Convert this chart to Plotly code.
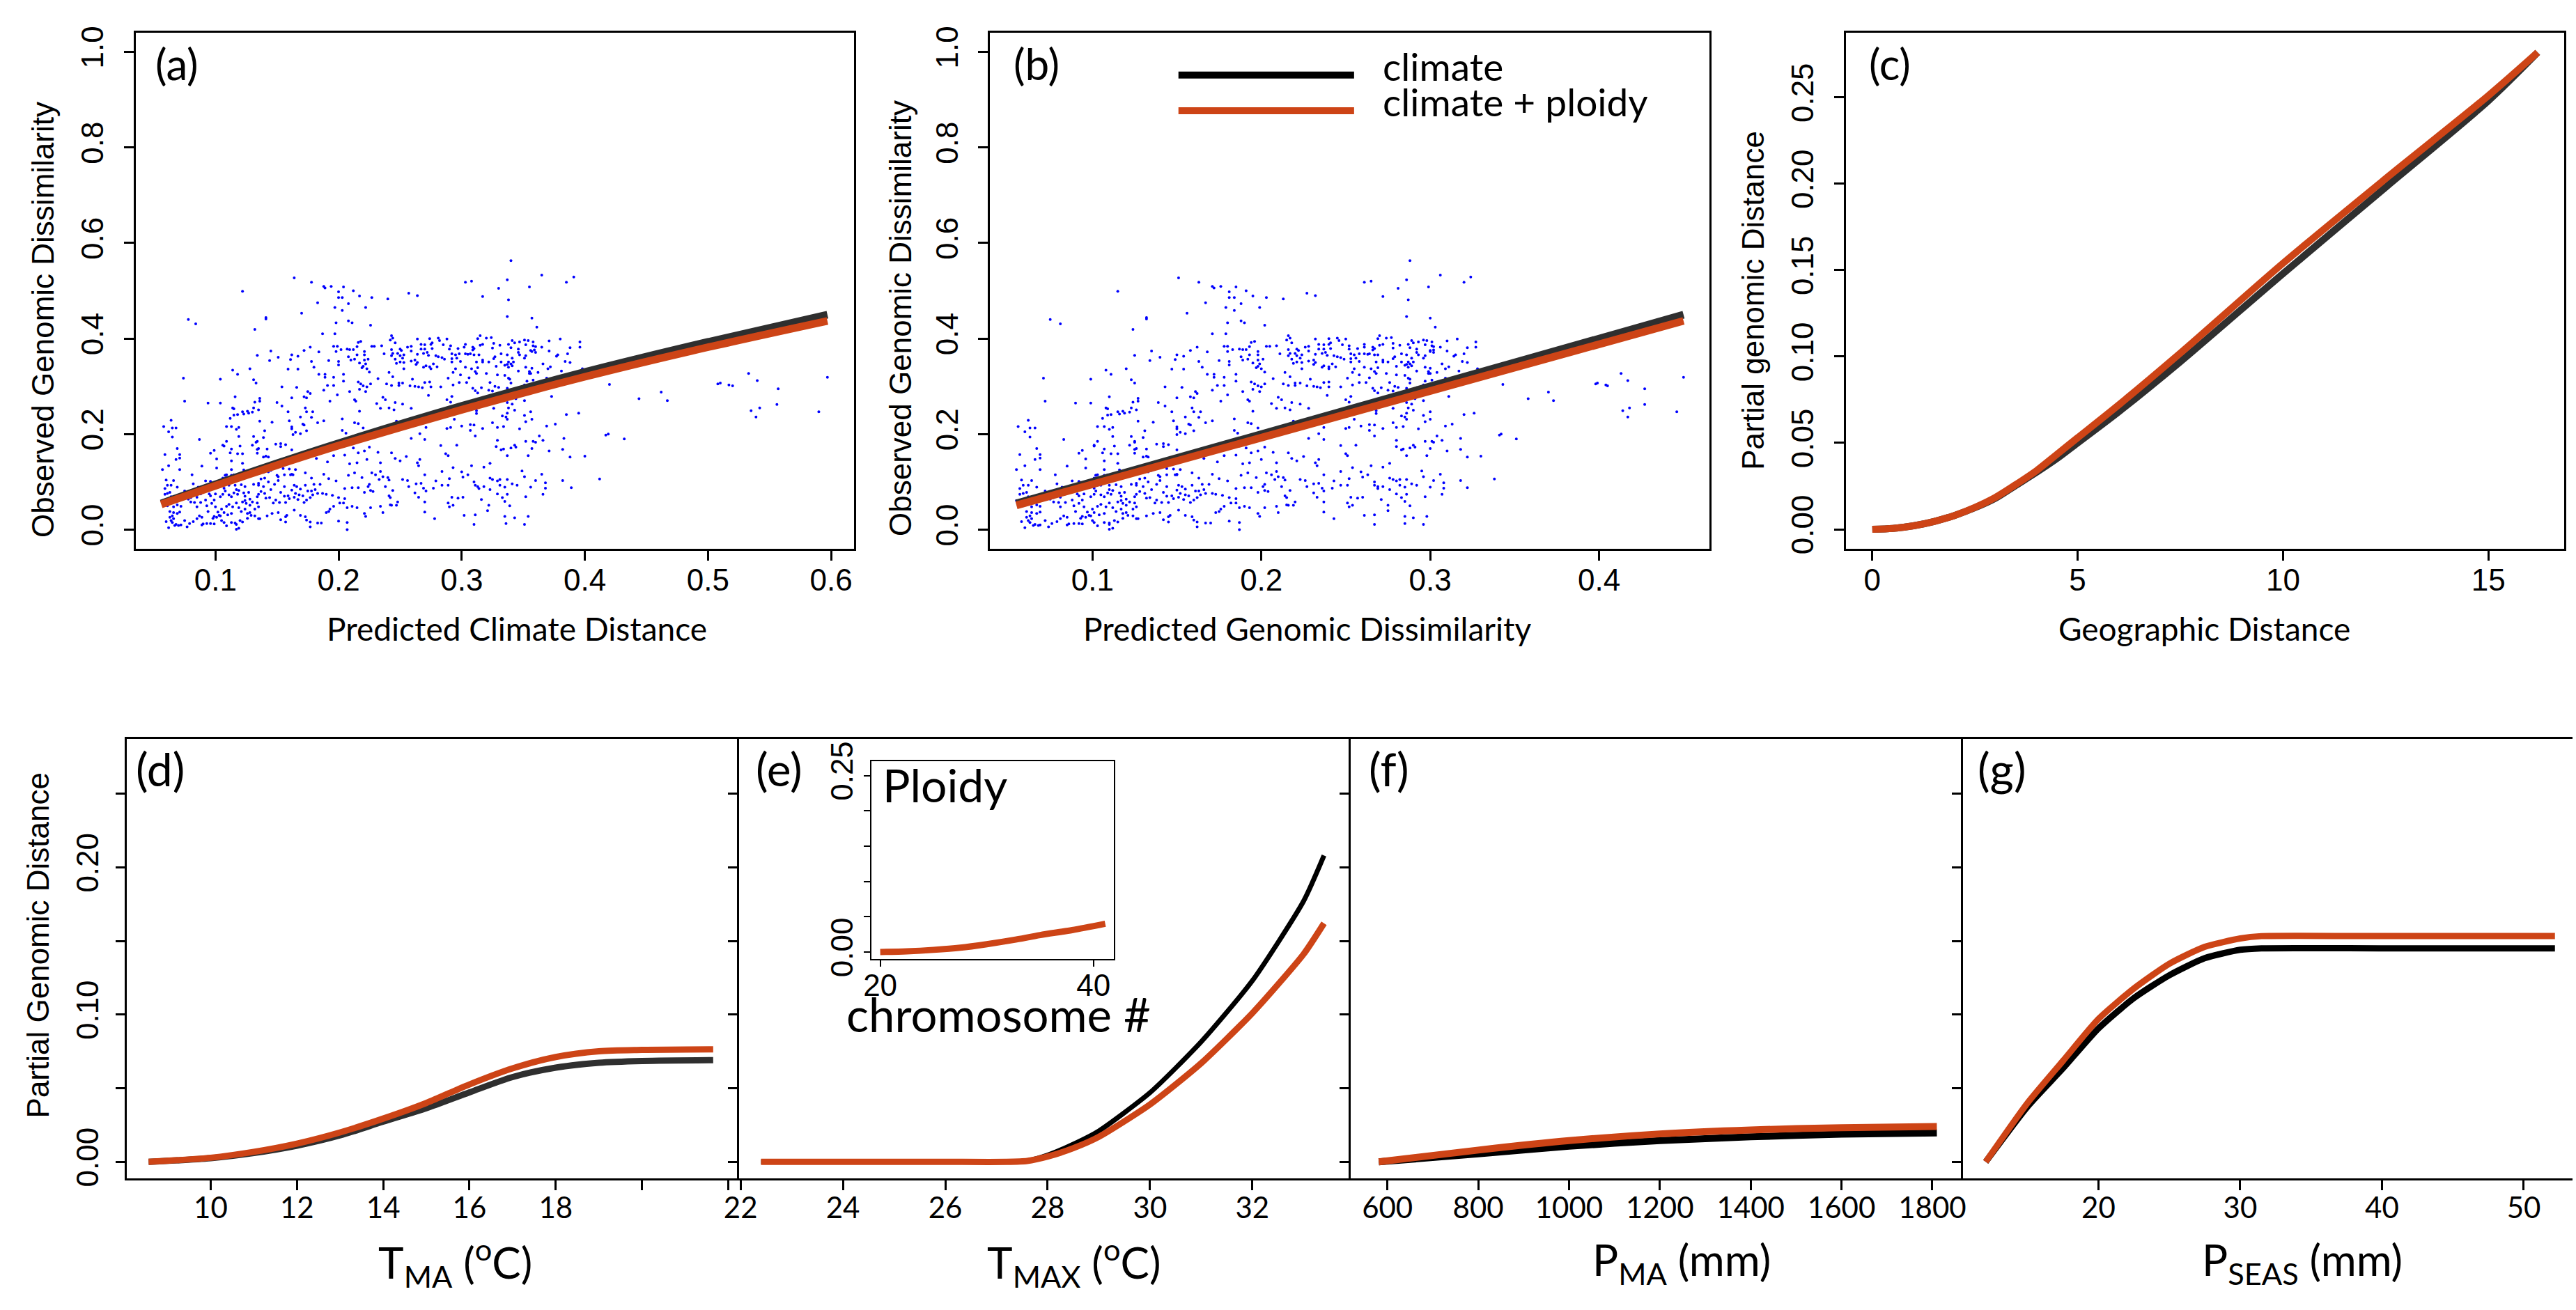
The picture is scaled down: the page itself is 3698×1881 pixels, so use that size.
import plotly.graph_objects as go

W, H = 3698, 1881

pred_climate_distance = [
    0.420, 0.444, 0.462, 0.467, 0.508, 0.510, 0.517, 0.520, 0.533, 0.540,
    0.557, 0.535, 0.542, 0.539, 0.556, 0.590, 0.597, 0.417, 0.419, 0.432,
    0.412, 0.340, 0.365, 0.337, 0.385, 0.391, 0.303, 0.308, 0.330, 0.355,
    0.257, 0.264, 0.240, 0.317, 0.338, 0.337, 0.357, 0.361, 0.243, 0.244,
    0.242, 0.264, 0.274, 0.281, 0.282, 0.276, 0.288, 0.313, 0.315, 0.320,
    0.324, 0.380, 0.351, 0.354, 0.358, 0.341, 0.347, 0.371, 0.396, 0.396,
    0.235, 0.246, 0.256, 0.259, 0.267, 0.270, 0.275, 0.285, 0.291, 0.297,
    0.303, 0.302, 0.309, 0.309, 0.317, 0.315, 0.326, 0.325, 0.331, 0.338,
    0.340, 0.343, 0.346, 0.352, 0.356, 0.358, 0.360, 0.365, 0.371, 0.388,
    0.386, 0.378, 0.377, 0.384, 0.388, 0.381, 0.398, 0.372, 0.370, 0.366,
    0.243, 0.244, 0.243, 0.250, 0.248, 0.251, 0.253, 0.250, 0.259, 0.264,
    0.267, 0.270, 0.272, 0.269, 0.273, 0.276, 0.279, 0.281, 0.284, 0.290,
    0.292, 0.295, 0.298, 0.303, 0.305, 0.307, 0.310, 0.310, 0.314, 0.317,
    0.317, 0.322, 0.326, 0.327, 0.332, 0.332, 0.337, 0.338, 0.341, 0.342,
    0.340, 0.337, 0.335, 0.346, 0.347, 0.352, 0.351, 0.359, 0.360, 0.357,
    0.237, 0.246, 0.247, 0.250, 0.253, 0.252, 0.253, 0.259, 0.262, 0.264,
    0.263, 0.269, 0.271, 0.274, 0.277, 0.280, 0.275, 0.286, 0.292, 0.296,
    0.292, 0.295, 0.299, 0.303, 0.308, 0.312, 0.311, 0.312, 0.313, 0.320,
    0.328, 0.329, 0.335, 0.338, 0.341, 0.346, 0.352, 0.355, 0.357, 0.356,
    0.362, 0.232, 0.241, 0.244, 0.239, 0.243, 0.249, 0.249, 0.252, 0.260,
    0.258, 0.262, 0.265, 0.268, 0.270, 0.274, 0.275, 0.283, 0.289, 0.293,
    0.293, 0.298, 0.299, 0.304, 0.306, 0.309, 0.311, 0.313, 0.316, 0.323,
    0.322, 0.325, 0.327, 0.330, 0.338, 0.339, 0.340, 0.337, 0.339, 0.343,
    0.344, 0.346, 0.351, 0.353, 0.358, 0.369, 0.373, 0.355, 0.231, 0.236,
    0.238, 0.234, 0.241, 0.245, 0.246, 0.252, 0.259, 0.247, 0.273, 0.288,
    0.292, 0.291, 0.294, 0.291, 0.288, 0.271, 0.266, 0.259, 0.270, 0.283,
    0.296, 0.287, 0.289, 0.300, 0.307, 0.307, 0.310, 0.311, 0.317, 0.312,
    0.312, 0.326, 0.325, 0.329, 0.334, 0.333, 0.336, 0.337, 0.337, 0.337,
    0.338, 0.341, 0.343, 0.347, 0.351, 0.351, 0.352, 0.356, 0.357, 0.363,
    0.366, 0.369, 0.376, 0.385, 0.395, 0.400, 0.383, 0.382, 0.388, 0.371,
    0.354, 0.357, 0.358, 0.360, 0.352, 0.343, 0.344, 0.340, 0.337, 0.334,
    0.332, 0.328, 0.329, 0.323, 0.318, 0.308, 0.293, 0.284, 0.264, 0.266,
    0.265, 0.255, 0.250, 0.246, 0.243, 0.232, 0.234, 0.234, 0.230, 0.233,
    0.236, 0.240, 0.241, 0.238, 0.241, 0.242, 0.242, 0.243, 0.247, 0.248,
    0.234, 0.236, 0.244, 0.252, 0.256, 0.257, 0.262, 0.265, 0.263, 0.267,
    0.269, 0.271, 0.270, 0.270, 0.270, 0.278, 0.279, 0.277, 0.284, 0.289,
    0.290, 0.292, 0.289, 0.290, 0.293, 0.297, 0.301, 0.300, 0.301, 0.305,
    0.310, 0.311, 0.313, 0.314, 0.318, 0.316, 0.322, 0.321, 0.323, 0.325,
    0.323, 0.329, 0.331, 0.331, 0.329, 0.335, 0.337, 0.333, 0.335, 0.337,
    0.339, 0.341, 0.345, 0.349, 0.351, 0.352, 0.356, 0.360, 0.365, 0.368,
    0.368, 0.366, 0.382, 0.389, 0.302, 0.311, 0.310, 0.335, 0.336, 0.343,
    0.351, 0.354, 0.164, 0.178, 0.188, 0.189, 0.194, 0.204, 0.200, 0.212,
    0.122, 0.200, 0.203, 0.217, 0.227, 0.183, 0.208, 0.197, 0.203, 0.222,
    0.170, 0.141, 0.141, 0.078, 0.084, 0.198, 0.208, 0.211, 0.226, 0.132,
    0.187, 0.197, 0.216, 0.218, 0.215, 0.227, 0.229, 0.196, 0.199, 0.202,
    0.207, 0.209, 0.212, 0.198, 0.215, 0.221, 0.221, 0.208, 0.177, 0.172,
    0.184, 0.162, 0.167, 0.145, 0.134, 0.144, 0.151, 0.161, 0.178, 0.192,
    0.200, 0.200, 0.210, 0.213, 0.217, 0.221, 0.224, 0.220, 0.222, 0.225,
    0.219, 0.223, 0.180, 0.159, 0.167, 0.128, 0.114, 0.118, 0.104, 0.074,
    0.131, 0.133, 0.154, 0.166, 0.184, 0.189, 0.189, 0.196, 0.196, 0.191,
    0.204, 0.204, 0.199, 0.209, 0.216, 0.218, 0.220, 0.223, 0.226, 0.217,
    0.222, 0.213, 0.214, 0.217, 0.216, 0.220, 0.213, 0.203, 0.203, 0.206,
    0.193, 0.188, 0.175, 0.177, 0.172, 0.174, 0.162, 0.169, 0.171, 0.172,
    0.174, 0.178, 0.179, 0.183, 0.188, 0.173, 0.174, 0.159, 0.160, 0.162,
    0.162, 0.163, 0.165, 0.169, 0.154, 0.150, 0.146, 0.136, 0.136, 0.132,
    0.135, 0.131, 0.126, 0.127, 0.130, 0.122, 0.123, 0.118, 0.115, 0.114,
    0.115, 0.116, 0.112, 0.117, 0.119, 0.109, 0.113, 0.104, 0.094, 0.075,
    0.064, 0.062, 0.065, 0.068, 0.065, 0.058, 0.087, 0.140, 0.136, 0.139,
    0.131, 0.133, 0.134, 0.130, 0.134, 0.135, 0.134, 0.142, 0.143, 0.139,
    0.141, 0.149, 0.153, 0.153, 0.157, 0.162, 0.165, 0.155, 0.119, 0.120,
    0.113, 0.112, 0.107, 0.106, 0.109, 0.118, 0.122, 0.122, 0.101, 0.096,
    0.099, 0.113, 0.101, 0.089, 0.068, 0.071, 0.069, 0.071, 0.059, 0.062,
    0.057, 0.071, 0.081, 0.113, 0.115, 0.109, 0.108, 0.106, 0.110, 0.123,
    0.126, 0.128, 0.139, 0.143, 0.145, 0.150, 0.151, 0.156, 0.160, 0.162,
    0.163, 0.060, 0.066, 0.061, 0.064, 0.069, 0.059, 0.075, 0.059, 0.061,
    0.063, 0.064, 0.066, 0.059, 0.057, 0.069, 0.066, 0.072, 0.061, 0.063,
    0.066, 0.069, 0.071, 0.063, 0.065, 0.066, 0.064, 0.065, 0.068, 0.070,
    0.067, 0.060, 0.062, 0.072, 0.075, 0.077, 0.079, 0.082, 0.085, 0.087,
    0.089, 0.089, 0.090, 0.096, 0.093, 0.098, 0.099, 0.101, 0.103, 0.099,
    0.105, 0.107, 0.109, 0.113, 0.116, 0.117, 0.120, 0.122, 0.117, 0.119,
    0.126, 0.129, 0.132, 0.135, 0.136, 0.142, 0.146, 0.151, 0.153, 0.157,
    0.157, 0.158, 0.164, 0.169, 0.173, 0.174, 0.177, 0.177, 0.183, 0.186,
    0.200, 0.207, 0.207, 0.190, 0.192, 0.193, 0.196, 0.201, 0.204, 0.205,
    0.207, 0.211, 0.215, 0.221, 0.222, 0.226, 0.221, 0.226, 0.228, 0.224,
    0.216, 0.211, 0.205, 0.200, 0.195, 0.190, 0.187, 0.183, 0.181, 0.185,
    0.180, 0.178, 0.173, 0.169, 0.166, 0.164, 0.162, 0.165, 0.168, 0.171,
    0.175, 0.178, 0.179, 0.177, 0.174, 0.172, 0.167, 0.164, 0.160, 0.159,
    0.156, 0.157, 0.152, 0.149, 0.147, 0.144, 0.141, 0.140, 0.137, 0.135,
    0.134, 0.128, 0.130, 0.134, 0.135, 0.132, 0.128, 0.128, 0.125, 0.124,
    0.122, 0.124, 0.123, 0.119, 0.117, 0.115, 0.118, 0.113, 0.111, 0.108,
    0.106, 0.104, 0.100, 0.099, 0.096, 0.095, 0.092, 0.093, 0.094, 0.097,
    0.100, 0.102, 0.105, 0.109, 0.111, 0.114, 0.117, 0.119, 0.121, 0.124,
    0.126, 0.113, 0.110, 0.107, 0.104, 0.085, 0.088, 0.083, 0.080, 0.078,
    0.080, 0.085, 0.088, 0.090, 0.086, 0.082, 0.092, 0.096, 0.104, 0.107,
    0.111, 0.116, 0.121, 0.124, 0.127, 0.131, 0.135, 0.139, 0.145, 0.148,
    0.151, 0.153, 0.156, 0.161, 0.143, 0.140, 0.137, 0.135, 0.123, 0.113,
    0.108, 0.188, 0.192, 0.198, 0.208, 0.213, 0.219, 0.225, 0.227, 0.173,
    0.212, 0.216, 0.221, 0.225, 0.223, 0.215, 0.205, 0.209, 0.196, 0.191,
    0.182, 0.188, 0.179,
]

observed_dissimilarity = [
    0.304, 0.274, 0.288, 0.270, 0.305, 0.307, 0.303, 0.301, 0.327, 0.312,
    0.295, 0.249, 0.255, 0.236, 0.262, 0.247, 0.319, 0.198, 0.200, 0.190,
    0.106, 0.563, 0.533, 0.523, 0.518, 0.529, 0.518, 0.520, 0.505, 0.508,
    0.495, 0.490, 0.483, 0.488, 0.481, 0.446, 0.443, 0.424, 0.406, 0.401,
    0.397, 0.399, 0.400, 0.401, 0.396, 0.391, 0.399, 0.400, 0.406, 0.401,
    0.402, 0.399, 0.397, 0.396, 0.393, 0.396, 0.393, 0.395, 0.393, 0.382,
    0.385, 0.391, 0.382, 0.384, 0.388, 0.387, 0.388, 0.387, 0.385, 0.379,
    0.388, 0.382, 0.382, 0.376, 0.388, 0.386, 0.390, 0.380, 0.386, 0.388,
    0.381, 0.391, 0.378, 0.387, 0.375, 0.385, 0.383, 0.382, 0.374, 0.381,
    0.368, 0.366, 0.363, 0.352, 0.350, 0.332, 0.337, 0.341, 0.337, 0.347,
    0.377, 0.369, 0.364, 0.378, 0.369, 0.375, 0.366, 0.364, 0.374, 0.367,
    0.378, 0.378, 0.371, 0.369, 0.365, 0.379, 0.364, 0.362, 0.360, 0.378,
    0.368, 0.366, 0.368, 0.368, 0.367, 0.368, 0.379, 0.366, 0.366, 0.355,
    0.351, 0.351, 0.358, 0.362, 0.368, 0.351, 0.366, 0.351, 0.359, 0.351,
    0.347, 0.346, 0.344, 0.371, 0.366, 0.364, 0.359, 0.376, 0.371, 0.373,
    0.368, 0.357, 0.348, 0.351, 0.350, 0.359, 0.337, 0.353, 0.355, 0.350,
    0.346, 0.340, 0.343, 0.341, 0.347, 0.341, 0.337, 0.357, 0.358, 0.359,
    0.351, 0.337, 0.352, 0.340, 0.337, 0.351, 0.331, 0.327, 0.339, 0.327,
    0.342, 0.324, 0.323, 0.340, 0.343, 0.332, 0.340, 0.331, 0.338, 0.327,
    0.329, 0.316, 0.329, 0.320, 0.305, 0.302, 0.307, 0.302, 0.307, 0.315,
    0.301, 0.300, 0.299, 0.297, 0.308, 0.309, 0.299, 0.299, 0.317, 0.329,
    0.303, 0.308, 0.324, 0.308, 0.318, 0.296, 0.291, 0.286, 0.297, 0.308,
    0.292, 0.290, 0.300, 0.298, 0.317, 0.315, 0.307, 0.296, 0.291, 0.281,
    0.274, 0.297, 0.303, 0.311, 0.313, 0.317, 0.279, 0.327, 0.264, 0.277,
    0.272, 0.254, 0.255, 0.251, 0.266, 0.263, 0.254, 0.227, 0.281, 0.272,
    0.279, 0.267, 0.231, 0.214, 0.212, 0.214, 0.201, 0.191, 0.189, 0.176,
    0.177, 0.159, 0.155, 0.217, 0.220, 0.208, 0.219, 0.196, 0.212, 0.249,
    0.243, 0.254, 0.224, 0.214, 0.216, 0.238, 0.236, 0.231, 0.244, 0.266,
    0.255, 0.263, 0.250, 0.211, 0.270, 0.239, 0.226, 0.247, 0.231, 0.196,
    0.187, 0.217, 0.221, 0.241, 0.244, 0.154, 0.191, 0.168, 0.152, 0.165,
    0.155, 0.170, 0.185, 0.183, 0.185, 0.177, 0.173, 0.171, 0.155, 0.169,
    0.167, 0.174, 0.187, 0.139, 0.131, 0.134, 0.130, 0.122, 0.140, 0.147,
    0.134, 0.153, 0.144, 0.149, 0.161, 0.162, 0.140, 0.122, 0.115, 0.105,
    0.111, 0.109, 0.104, 0.090, 0.071, 0.067, 0.052, 0.051, 0.051, 0.058,
    0.049, 0.036, 0.082, 0.105, 0.103, 0.090, 0.077, 0.068, 0.096, 0.097,
    0.087, 0.081, 0.115, 0.058, 0.037, 0.023, 0.102, 0.087, 0.093, 0.093,
    0.107, 0.068, 0.056, 0.048, 0.051, 0.066, 0.068, 0.121, 0.110, 0.115,
    0.100, 0.093, 0.090, 0.086, 0.090, 0.063, 0.051, 0.040, 0.108, 0.105,
    0.084, 0.102, 0.093, 0.105, 0.075, 0.089, 0.105, 0.067, 0.059, 0.074,
    0.050, 0.096, 0.093, 0.123, 0.111, 0.069, 0.089, 0.103, 0.116, 0.098,
    0.087, 0.074, 0.103, 0.088, 0.030, 0.031, 0.011, 0.028, 0.013, 0.025,
    0.011, 0.028, 0.527, 0.518, 0.509, 0.506, 0.509, 0.508, 0.498, 0.500,
    0.499, 0.486, 0.486, 0.489, 0.486, 0.475, 0.473, 0.465, 0.459, 0.465,
    0.453, 0.444, 0.441, 0.440, 0.431, 0.433, 0.437, 0.433, 0.428, 0.419,
    0.410, 0.410, 0.392, 0.394, 0.383, 0.384, 0.384, 0.384, 0.384, 0.377,
    0.378, 0.377, 0.377, 0.373, 0.366, 0.366, 0.373, 0.362, 0.382, 0.375,
    0.372, 0.366, 0.363, 0.374, 0.365, 0.354, 0.361, 0.356, 0.352, 0.354,
    0.352, 0.345, 0.355, 0.357, 0.349, 0.355, 0.357, 0.342, 0.347, 0.330,
    0.339, 0.337, 0.340, 0.336, 0.336, 0.337, 0.334, 0.325, 0.315, 0.317,
    0.314, 0.307, 0.299, 0.298, 0.325, 0.325, 0.319, 0.319, 0.302, 0.302,
    0.325, 0.311, 0.282, 0.289, 0.309, 0.305, 0.301, 0.299, 0.305, 0.294,
    0.289, 0.272, 0.269, 0.248, 0.222, 0.213, 0.224, 0.232, 0.208, 0.202,
    0.269, 0.292, 0.289, 0.285, 0.278, 0.276, 0.276, 0.236, 0.221, 0.219,
    0.207, 0.235, 0.247, 0.224, 0.228, 0.255, 0.247, 0.247, 0.228, 0.215,
    0.211, 0.199, 0.204, 0.201, 0.259, 0.266, 0.225, 0.275, 0.269, 0.267,
    0.251, 0.255, 0.248, 0.244, 0.246, 0.247, 0.242, 0.241, 0.240, 0.255,
    0.253, 0.278, 0.233, 0.210, 0.214, 0.216, 0.216, 0.265, 0.265, 0.269,
    0.229, 0.205, 0.213, 0.213, 0.194, 0.216, 0.189, 0.207, 0.227, 0.193,
    0.195, 0.183, 0.185, 0.177, 0.168, 0.170, 0.160, 0.169, 0.152, 0.152,
    0.154, 0.179, 0.180, 0.174, 0.178, 0.167, 0.126, 0.128, 0.195, 0.175,
    0.169, 0.161, 0.175, 0.177, 0.185, 0.159, 0.159, 0.139, 0.148, 0.160,
    0.166, 0.144, 0.129, 0.133, 0.147, 0.150, 0.170, 0.157, 0.157, 0.134,
    0.126, 0.126, 0.115, 0.126, 0.115, 0.115, 0.114, 0.108, 0.109, 0.125,
    0.122, 0.119, 0.120, 0.121, 0.124, 0.114, 0.111, 0.115, 0.127, 0.116,
    0.115, 0.104, 0.103, 0.093, 0.093, 0.089, 0.086, 0.081, 0.074, 0.076,
    0.078, 0.069, 0.065, 0.062, 0.061, 0.052, 0.048, 0.049, 0.050, 0.038,
    0.036, 0.034, 0.037, 0.026, 0.029, 0.023, 0.019, 0.015, 0.011, 0.009,
    0.009, 0.017, 0.004, 0.010, 0.019, 0.006, 0.013, 0.017, 0.023, 0.029,
    0.026, 0.010, 0.012, 0.013, 0.013, 0.024, 0.028, 0.026, 0.030, 0.012,
    0.019, 0.015, 0.008, 0.015, 0.014, 0.011, 0.019, 0.016, 0.001, 0.003,
    0.024, 0.030, 0.029, 0.023, 0.023, 0.029, 0.034, 0.036, 0.021, 0.016,
    0.027, 0.030, 0.041, 0.030, 0.027, 0.020, 0.016, 0.006, 0.014, 0.014,
    0.018, 0.015, 0.000, 0.036, 0.038, 0.043, 0.049, 0.056, 0.056, 0.065,
    0.046, 0.049, 0.046, 0.034, 0.028, 0.046, 0.078, 0.082, 0.080, 0.090,
    0.088, 0.088, 0.086, 0.067, 0.072, 0.074, 0.076, 0.076, 0.084, 0.095,
    0.095, 0.108, 0.093, 0.085, 0.090, 0.093, 0.083, 0.076, 0.073, 0.071,
    0.081, 0.081, 0.073, 0.067, 0.062, 0.057, 0.063, 0.068, 0.065, 0.071,
    0.070, 0.057, 0.057, 0.062, 0.056, 0.067, 0.066, 0.076, 0.080, 0.074,
    0.069, 0.064, 0.058, 0.056, 0.048, 0.043, 0.036, 0.051, 0.055, 0.061,
    0.058, 0.070, 0.077, 0.082, 0.084, 0.077, 0.074, 0.069, 0.073, 0.081,
    0.074, 0.069, 0.075, 0.062, 0.071, 0.075, 0.062, 0.050, 0.038, 0.055,
    0.048, 0.037, 0.043, 0.049, 0.053, 0.048, 0.056, 0.046, 0.038, 0.043,
    0.034, 0.034, 0.031, 0.036, 0.029, 0.048, 0.057, 0.057, 0.058, 0.064,
    0.067, 0.068, 0.075, 0.083, 0.089, 0.096, 0.102, 0.101, 0.095, 0.087,
    0.093, 0.093, 0.094, 0.090, 0.078, 0.095, 0.093, 0.090, 0.084, 0.095,
    0.103, 0.078, 0.090, 0.115, 0.100, 0.108, 0.106, 0.097, 0.109, 0.114,
    0.114, 0.116, 0.107, 0.102, 0.114, 0.119, 0.109, 0.095, 0.119, 0.119,
    0.171, 0.161, 0.165, 0.173, 0.147, 0.140, 0.156, 0.138, 0.155, 0.142,
    0.149, 0.170, 0.166,
]

pred_genomic_dissimilarity = [
    0.343, 0.358, 0.370, 0.373, 0.398, 0.399, 0.404, 0.405, 0.413, 0.417,
    0.427, 0.414, 0.418, 0.417, 0.427, 0.446, 0.450, 0.341, 0.342, 0.351,
    0.338, 0.288, 0.306, 0.286, 0.320, 0.324, 0.261, 0.265, 0.281, 0.299,
    0.227, 0.232, 0.213, 0.272, 0.287, 0.286, 0.300, 0.303, 0.216, 0.217,
    0.215, 0.232, 0.240, 0.245, 0.246, 0.241, 0.250, 0.269, 0.270, 0.274,
    0.277, 0.316, 0.296, 0.298, 0.301, 0.289, 0.293, 0.310, 0.327, 0.327,
    0.209, 0.218, 0.226, 0.228, 0.234, 0.237, 0.240, 0.248, 0.252, 0.257,
    0.261, 0.261, 0.266, 0.266, 0.272, 0.270, 0.278, 0.278, 0.282, 0.287,
    0.288, 0.290, 0.292, 0.297, 0.300, 0.301, 0.302, 0.306, 0.310, 0.322,
    0.320, 0.315, 0.314, 0.319, 0.322, 0.317, 0.328, 0.311, 0.309, 0.307,
    0.216, 0.217, 0.216, 0.221, 0.220, 0.222, 0.224, 0.221, 0.228, 0.232,
    0.234, 0.237, 0.238, 0.236, 0.239, 0.241, 0.243, 0.245, 0.247, 0.252,
    0.253, 0.255, 0.258, 0.261, 0.263, 0.264, 0.267, 0.267, 0.269, 0.272,
    0.272, 0.275, 0.278, 0.279, 0.283, 0.283, 0.286, 0.287, 0.289, 0.290,
    0.288, 0.286, 0.285, 0.292, 0.293, 0.297, 0.296, 0.302, 0.302, 0.300,
    0.211, 0.218, 0.219, 0.221, 0.224, 0.223, 0.224, 0.228, 0.231, 0.232,
    0.231, 0.236, 0.237, 0.240, 0.242, 0.244, 0.240, 0.249, 0.253, 0.256,
    0.253, 0.255, 0.258, 0.261, 0.265, 0.268, 0.267, 0.268, 0.269, 0.274,
    0.280, 0.280, 0.285, 0.287, 0.289, 0.292, 0.297, 0.299, 0.300, 0.300,
    0.304, 0.207, 0.214, 0.217, 0.213, 0.216, 0.220, 0.220, 0.223, 0.229,
    0.227, 0.231, 0.233, 0.235, 0.237, 0.240, 0.240, 0.247, 0.251, 0.254,
    0.254, 0.258, 0.258, 0.262, 0.264, 0.266, 0.267, 0.269, 0.271, 0.276,
    0.275, 0.278, 0.279, 0.281, 0.287, 0.288, 0.288, 0.286, 0.288, 0.290,
    0.291, 0.292, 0.296, 0.297, 0.301, 0.309, 0.311, 0.299, 0.206, 0.210,
    0.212, 0.209, 0.214, 0.217, 0.218, 0.223, 0.228, 0.219, 0.239, 0.250,
    0.253, 0.252, 0.255, 0.252, 0.250, 0.237, 0.234, 0.228, 0.237, 0.247,
    0.256, 0.250, 0.251, 0.259, 0.264, 0.264, 0.267, 0.267, 0.272, 0.268,
    0.268, 0.278, 0.278, 0.280, 0.284, 0.283, 0.285, 0.286, 0.286, 0.286,
    0.287, 0.289, 0.290, 0.293, 0.296, 0.296, 0.297, 0.300, 0.300, 0.304,
    0.307, 0.309, 0.313, 0.320, 0.326, 0.330, 0.318, 0.318, 0.322, 0.310,
    0.298, 0.300, 0.301, 0.302, 0.297, 0.290, 0.291, 0.288, 0.286, 0.284,
    0.283, 0.280, 0.280, 0.276, 0.272, 0.265, 0.254, 0.247, 0.232, 0.234,
    0.233, 0.225, 0.221, 0.218, 0.216, 0.207, 0.209, 0.209, 0.206, 0.208,
    0.210, 0.213, 0.214, 0.212, 0.214, 0.215, 0.215, 0.216, 0.219, 0.220,
    0.209, 0.210, 0.217, 0.223, 0.226, 0.227, 0.231, 0.233, 0.231, 0.234,
    0.236, 0.237, 0.237, 0.237, 0.237, 0.243, 0.243, 0.242, 0.247, 0.251,
    0.252, 0.253, 0.251, 0.252, 0.254, 0.257, 0.260, 0.259, 0.260, 0.263,
    0.267, 0.267, 0.269, 0.269, 0.272, 0.271, 0.275, 0.275, 0.276, 0.278,
    0.276, 0.280, 0.282, 0.282, 0.280, 0.285, 0.286, 0.283, 0.285, 0.286,
    0.288, 0.289, 0.292, 0.295, 0.296, 0.297, 0.300, 0.302, 0.306, 0.308,
    0.308, 0.307, 0.318, 0.322, 0.261, 0.267, 0.267, 0.285, 0.285, 0.290,
    0.296, 0.298, 0.151, 0.163, 0.171, 0.172, 0.176, 0.185, 0.181, 0.191,
    0.115, 0.181, 0.184, 0.195, 0.203, 0.167, 0.188, 0.179, 0.184, 0.199,
    0.156, 0.132, 0.132, 0.075, 0.081, 0.180, 0.188, 0.190, 0.202, 0.124,
    0.171, 0.179, 0.194, 0.196, 0.193, 0.203, 0.205, 0.178, 0.180, 0.183,
    0.187, 0.189, 0.191, 0.180, 0.193, 0.198, 0.198, 0.188, 0.162, 0.158,
    0.168, 0.150, 0.154, 0.135, 0.125, 0.134, 0.140, 0.149, 0.163, 0.175,
    0.181, 0.181, 0.189, 0.192, 0.195, 0.198, 0.201, 0.198, 0.199, 0.202,
    0.197, 0.200, 0.165, 0.147, 0.154, 0.120, 0.108, 0.111, 0.099, 0.071,
    0.123, 0.125, 0.143, 0.153, 0.168, 0.172, 0.172, 0.178, 0.178, 0.174,
    0.185, 0.185, 0.180, 0.189, 0.194, 0.196, 0.198, 0.200, 0.202, 0.195,
    0.199, 0.192, 0.193, 0.195, 0.194, 0.198, 0.192, 0.184, 0.184, 0.186,
    0.176, 0.171, 0.161, 0.162, 0.158, 0.160, 0.150, 0.155, 0.157, 0.158,
    0.160, 0.163, 0.164, 0.167, 0.171, 0.159, 0.160, 0.147, 0.148, 0.150,
    0.150, 0.150, 0.152, 0.155, 0.143, 0.139, 0.136, 0.127, 0.127, 0.124,
    0.126, 0.123, 0.118, 0.119, 0.122, 0.115, 0.116, 0.111, 0.109, 0.108,
    0.109, 0.110, 0.106, 0.110, 0.112, 0.103, 0.107, 0.099, 0.090, 0.072,
    0.062, 0.060, 0.063, 0.066, 0.063, 0.056, 0.083, 0.131, 0.127, 0.130,
    0.123, 0.125, 0.125, 0.122, 0.125, 0.126, 0.125, 0.132, 0.133, 0.130,
    0.132, 0.138, 0.142, 0.142, 0.145, 0.150, 0.152, 0.144, 0.112, 0.113,
    0.107, 0.106, 0.101, 0.101, 0.103, 0.111, 0.115, 0.115, 0.096, 0.092,
    0.094, 0.107, 0.096, 0.085, 0.066, 0.069, 0.067, 0.069, 0.057, 0.060,
    0.055, 0.069, 0.078, 0.107, 0.109, 0.103, 0.102, 0.101, 0.104, 0.116,
    0.118, 0.120, 0.130, 0.133, 0.135, 0.139, 0.140, 0.144, 0.148, 0.150,
    0.150, 0.058, 0.064, 0.059, 0.062, 0.067, 0.057, 0.072, 0.057, 0.059,
    0.061, 0.062, 0.064, 0.057, 0.055, 0.067, 0.064, 0.069, 0.059, 0.061,
    0.064, 0.067, 0.069, 0.061, 0.063, 0.064, 0.062, 0.063, 0.066, 0.068,
    0.065, 0.058, 0.060, 0.069, 0.072, 0.074, 0.076, 0.079, 0.081, 0.083,
    0.085, 0.085, 0.086, 0.092, 0.089, 0.093, 0.094, 0.096, 0.098, 0.094,
    0.100, 0.101, 0.103, 0.107, 0.110, 0.110, 0.113, 0.115, 0.110, 0.112,
    0.118, 0.121, 0.124, 0.126, 0.127, 0.132, 0.136, 0.140, 0.142, 0.145,
    0.145, 0.146, 0.151, 0.155, 0.159, 0.160, 0.162, 0.162, 0.167, 0.170,
    0.181, 0.187, 0.187, 0.173, 0.175, 0.176, 0.178, 0.182, 0.185, 0.185,
    0.187, 0.190, 0.193, 0.198, 0.199, 0.202, 0.198, 0.202, 0.204, 0.201,
    0.194, 0.190, 0.185, 0.181, 0.177, 0.173, 0.171, 0.167, 0.166, 0.169,
    0.165, 0.163, 0.159, 0.155, 0.153, 0.151, 0.150, 0.152, 0.155, 0.157,
    0.161, 0.163, 0.164, 0.162, 0.160, 0.158, 0.154, 0.151, 0.148, 0.147,
    0.144, 0.145, 0.141, 0.138, 0.137, 0.134, 0.132, 0.131, 0.128, 0.126,
    0.125, 0.120, 0.122, 0.125, 0.126, 0.124, 0.120, 0.120, 0.118, 0.117,
    0.115, 0.117, 0.116, 0.112, 0.110, 0.109, 0.111, 0.107, 0.105, 0.102,
    0.101, 0.099, 0.095, 0.094, 0.092, 0.091, 0.088, 0.089, 0.090, 0.092,
    0.095, 0.097, 0.100, 0.103, 0.105, 0.108, 0.110, 0.112, 0.114, 0.117,
    0.118, 0.107, 0.104, 0.101, 0.099, 0.081, 0.084, 0.080, 0.077, 0.075,
    0.077, 0.081, 0.084, 0.086, 0.082, 0.079, 0.088, 0.092, 0.099, 0.101,
    0.105, 0.110, 0.114, 0.117, 0.119, 0.123, 0.126, 0.130, 0.135, 0.138,
    0.140, 0.142, 0.144, 0.149, 0.133, 0.131, 0.128, 0.126, 0.116, 0.107,
    0.102, 0.171, 0.175, 0.180, 0.188, 0.192, 0.197, 0.202, 0.203, 0.159,
    0.191, 0.194, 0.198, 0.202, 0.200, 0.193, 0.185, 0.189, 0.178, 0.174,
    0.166, 0.171, 0.164,
]

assert len(pred_climate_distance) == len(observed_dissimilarity) == len(pred_genomic_dissimilarity)

a_line_x = [0.056, 0.10, 0.15, 0.20, 0.30, 0.40, 0.50, 0.597]
a_line_climate = [0.055, 0.095, 0.139, 0.181, 0.259, 0.330, 0.393, 0.450]
a_line_ploidy = [0.053, 0.092, 0.135, 0.176, 0.251, 0.320, 0.382, 0.437]

b_line_x = [0.055, 0.45]
b_line_climate = [0.055, 0.450]
b_line_ploidy = [0.051, 0.437]

geo_x = [0, 0.5, 1, 1.5, 2, 2.5, 3, 3.5, 4, 4.5, 5, 6, 7.5, 10, 12.5, 15, 16.2]
geo_climate = [0, 0.0005, 0.002, 0.0045, 0.008, 0.0125, 0.018, 0.0255, 0.033, 0.041, 0.050, 0.068,
               0.097, 0.148, 0.198, 0.248, 0.276]
geo_ploidy = [0, 0.0005, 0.002, 0.0045, 0.008, 0.0127, 0.0185, 0.026, 0.034, 0.0435, 0.053, 0.072,
              0.102, 0.154, 0.203, 0.251, 0.276]

tma_x = [8.56, 10, 11, 12, 13, 14, 15, 16, 17, 18, 19, 20, 21.65]
tma_climate = [0, 0.0025, 0.006, 0.011, 0.018, 0.0273, 0.0364, 0.0472, 0.0576, 0.064, 0.0673, 0.0685, 0.0691]
tma_ploidy = [0, 0.0028, 0.0068, 0.0124, 0.020, 0.0294, 0.040, 0.0526, 0.0635, 0.0712, 0.0751, 0.0760, 0.0764]

tmax_x = [22.4, 24, 26, 27.2, 27.6, 28, 28.5, 29, 30, 31, 32, 33, 33.4]
tmax_climate = [0, 0, 0, 0, 0.0008, 0.0046, 0.012, 0.021, 0.047, 0.0815, 0.123, 0.177, 0.208]
tmax_ploidy = [0, 0, 0, 0, 0.0006, 0.0036, 0.0093, 0.017, 0.039, 0.067, 0.101, 0.141, 0.162]

pma_x = [581, 800, 1000, 1200, 1400, 1600, 1810]
pma_climate = [0, 0.0054, 0.0106, 0.0144, 0.017, 0.0188, 0.0196]
pma_ploidy = [0, 0.008, 0.0144, 0.019, 0.0217, 0.0232, 0.024]

pseas_x = [12.05, 15, 17.5, 20, 22.5, 25, 27.5, 30, 31.5, 40, 52.2]
pseas_climate = [0, 0.0375, 0.0635, 0.0906, 0.1112, 0.1267, 0.1383, 0.144, 0.145, 0.145, 0.145]
pseas_ploidy = [0, 0.040, 0.0686, 0.097, 0.1177, 0.1345, 0.146, 0.1517, 0.1533, 0.1533, 0.1533]

ploidy_x = [20, 22.5, 25, 27.5, 30, 32.5, 35, 38, 41.1]
ploidy_y = [0, 0.001, 0.003, 0.006, 0.011, 0.017, 0.024, 0.031, 0.040]

BLACK_A = "#2f2f2f"
BLACK = "#000000"
ORANGE = "#CD4416"
BLUE = "#0000FF"
AX_FONT = "Liberation Sans, Arial, sans-serif"
TXT_FONT = "Lato, Open Sans, sans-serif"


def dom_x(p0, p1):
    return [p0 / W, p1 / W]


def dom_y(top, bot):
    return [1 - bot / H, 1 - top / H]


def axis(domain, rng, tickvals, ticktext, anchor, font=AX_FONT, size=44, ticklen=14, lw=3,
         mirror=True, angle=None, standoff=0, showlabels=True):
    d = dict(domain=domain, range=rng, tickmode="array", tickvals=tickvals, ticktext=ticktext,
             showline=True, linecolor="black", linewidth=lw, mirror=mirror,
             ticks="outside", ticklen=ticklen, tickwidth=lw, tickcolor="black",
             showgrid=False, zeroline=False, showticklabels=showlabels,
             tickfont=dict(family=font, size=size, color="black"), anchor=anchor,
             ticklabelstandoff=standoff, fixedrange=True)
    if angle is not None:
        d["tickangle"] = angle
    return d


fig = go.Figure()


def add(x, y, ax, ay, **kw):
    fig.add_trace(go.Scatter(x=x, y=y, xaxis=ax, yaxis=ay, showlegend=False, hoverinfo="skip", **kw))


def curve(x, y, ax, ay, color, width, smoothing=0.8):
    add(x, y, ax, ay, mode="lines", line=dict(color=color, width=width, shape="spline", smoothing=smoothing))


add(pred_climate_distance, observed_dissimilarity, "x", "y", mode="markers",
    marker=dict(color=BLUE, size=4, line=dict(width=0)))
curve(a_line_x, a_line_climate, "x", "y", BLACK_A, 11)
curve(a_line_x, a_line_ploidy, "x", "y", ORANGE, 11)
add(pred_genomic_dissimilarity, observed_dissimilarity, "x2", "y2", mode="markers",
    marker=dict(color=BLUE, size=4, line=dict(width=0)))
curve(b_line_x, b_line_climate, "x2", "y2", BLACK_A, 11)
curve(b_line_x, b_line_ploidy, "x2", "y2", ORANGE, 11)
curve(geo_x, geo_climate, "x3", "y3", BLACK_A, 10)
curve(geo_x, geo_ploidy, "x3", "y3", ORANGE, 10)
curve(tma_x, tma_climate, "x4", "y4", BLACK_A, 9)
curve(tma_x, tma_ploidy, "x4", "y4", ORANGE, 9)
curve(tmax_x, tmax_climate, "x5", "y5", BLACK, 7, 0.6)
curve(tmax_x, tmax_ploidy, "x5", "y5", ORANGE, 9, 0.6)
curve(pma_x, pma_climate, "x6", "y6", BLACK, 10)
curve(pma_x, pma_ploidy, "x6", "y6", ORANGE, 10)
curve(pseas_x, pseas_climate, "x7", "y7", BLACK, 9, 0.6)
curve(pseas_x, pseas_ploidy, "x7", "y7", ORANGE, 9, 0.6)
curve(ploidy_x, ploidy_y, "x8", "y8", ORANGE, 9)

TOP_Y = dom_y(19.6, 782.5)
BOT_Y = dom_y(1063.5, 1713.6)
y01 = [0, 0.2, 0.4, 0.6, 0.8, 1.0]
y01t = ["0.0", "0.2", "0.4", "0.6", "0.8", "1.0"]
y25 = [0, 0.05, 0.10, 0.15, 0.20, 0.25]

layout_axes = dict(
    xaxis=axis(dom_x(173.8, 1212.5), [0.0351, 0.6184], [0.1, 0.2, 0.3, 0.4, 0.5, 0.6],
               ["0.1", "0.2", "0.3", "0.4", "0.5", "0.6"], "y", standoff=-10),
    yaxis=axis(TOP_Y, [-0.04, 1.04], y01, y01t, "x", angle=-90, standoff=12),
    xaxis2=axis(dom_x(1409.4, 2449.8), [0.0393, 0.4653], [0.1, 0.2, 0.3, 0.4],
                ["0.1", "0.2", "0.3", "0.4"], "y2", standoff=-10),
    yaxis2=axis(TOP_Y, [-0.04, 1.04], y01, y01t, "x2", angle=-90, standoff=12),
    xaxis3=axis(dom_x(2647.4, 3685.6), [-0.64, 16.84], [0, 5, 10, 15],
                ["0", "5", "10", "15"], "y3", standoff=-10),
    yaxis3=axis(TOP_Y, [-0.0113, 0.2874], y25, ["0.00", "0.05", "0.10", "0.15", "0.20", "0.25"],
                "x3", angle=-90, standoff=12),
    xaxis4=axis(dom_x(161.3, 1046.6), [8.056, 22.25], [10, 12, 14, 16, 18, 20, 22],
                ["10", "12", "14", "16", "18", "", ""], "y4", font=TXT_FONT, size=42, lw=2.5, standoff=-11),
    yaxis4=axis(BOT_Y, [-0.0114, 0.2872], y25, ["0.00", "", "0.10", "", "0.20", ""], "x4",
                angle=-90, lw=2.5, ticklen=13, mirror=False, standoff=8),
    xaxis5=axis(dom_x(1046.6, 1931), [21.97, 33.92], [22, 24, 26, 28, 30, 32],
                ["22", "24", "26", "28", "30", "32"], "y5", font=TXT_FONT, size=42, lw=2.5, standoff=-11),
    yaxis5=axis(BOT_Y, [-0.0114, 0.2872], y25, [""] * 6, "x5", lw=2.5, ticklen=13, mirror=False,
                showlabels=False),
    xaxis6=axis(dom_x(1931, 2816.2), [519, 1867], [600, 800, 1000, 1200, 1400, 1600, 1800],
                ["600", "800", "1000", "1200", "1400", "1600", "1800"], "y6", font=TXT_FONT, size=42,
                lw=2.5, standoff=-11),
    yaxis6=axis(BOT_Y, [-0.0114, 0.2872], y25, [""] * 6, "x6", lw=2.5, ticklen=13, mirror=False,
                showlabels=False),
    xaxis7=axis(dom_x(2816.2, 3698), [10.43, 53.44], [20, 30, 40, 50],
                ["20", "30", "40", "50"], "y7", font=TXT_FONT, size=42, lw=2.5, standoff=-11),
    yaxis7=axis(BOT_Y, [-0.0114, 0.2872], y25, [""] * 6, "x7", lw=2.5, ticklen=13, mirror=False,
                showlabels=False),
    xaxis8=axis(dom_x(1238.4, 1588.2), [19.2, 41.88], [20, 40], ["20", "40"], "y8",
                size=44, ticklen=9, lw=2, standoff=-10),
    yaxis8=axis(dom_y(1096.7, 1388.5), [-0.0096, 0.2701], y25, ["0.00", "", "", "", "", "0.25"], "x8",
                size=44, ticklen=9, lw=2, angle=-90, standoff=-1),
)

ann = []


def text(t, x, y, size, font=TXT_FONT, angle=0, xanchor="center", yanchor="middle"):
    ann.append(dict(text=t, x=x / W, y=1 - y / H, xref="paper", yref="paper", showarrow=False,
                    font=dict(family=font, size=size, color="black"), textangle=angle,
                    xanchor=xanchor, yanchor=yanchor))


for lbl, x, y in [("(a)", 234, 65), ("(b)", 1477, 65), ("(c)", 2711, 65)]:
    text(lbl, x, y, 62)
for lbl, x, y in [("(d)", 210, 1107), ("(e)", 1105, 1107), ("(f)", 1987, 1107), ("(g)", 2873, 1107)]:
    text(lbl, x, y, 66)

text("Observed Genomic Dissimilarity", 40, 444, 44, AX_FONT, -90)
text("Observed Genomic Dissimilarity", 1280, 442, 44, AX_FONT, -90)
text("Partial genomic Distance", 2512, 415, 44, AX_FONT, -90)
text("Partial Genomic Distance", 33, 1369, 44, AX_FONT, -90)

text("Predicted Climate Distance", 725, 900, 46)
text("Predicted Genomic Dissimilarity", 1869, 900, 46)
text("Geographic Distance", 3166, 900, 46)

text("T<sub>MA</sub> (<sup>o</sup>C)", 636, 1837, 62)
text("T<sub>MAX</sub> (<sup>o</sup>C)", 1531, 1837, 62)
text("P<sub>MA</sub> (mm)", 2410, 1837, 62)
text("P<sub>SEAS</sub> (mm)", 3307, 1837, 62)

text("climate", 1975, 69, 55, xanchor="left")
text("climate + ploidy", 1975, 121, 55, xanchor="left")

text("Ploidy", 1252, 1131, 66, xanchor="left")
text("chromosome #", 1200, 1470, 67, xanchor="left")

shapes = [
    dict(type="line", xref="paper", yref="paper", x0=1682 / W, x1=1936 / W, y0=1 - 82 / H, y1=1 - 82 / H,
         line=dict(color=BLACK, width=10)),
    dict(type="line", xref="paper", yref="paper", x0=1682 / W, x1=1936 / W, y0=1 - 135 / H, y1=1 - 135 / H,
         line=dict(color=ORANGE, width=10)),
]

fig.update_layout(
    width=W, height=H, margin=dict(l=0, r=0, t=0, b=0),
    paper_bgcolor="white", plot_bgcolor="rgba(0,0,0,0)",
    showlegend=False, annotations=ann, shapes=shapes,
    **layout_axes,
)

# place the figure flush with the page corner (no default body margin / scrollbars), no mode bar
fig.write_html("out.html", config={"displayModeBar": False}, post_script=(
    "document.body.style.margin='0';document.body.style.overflow='hidden';"))
